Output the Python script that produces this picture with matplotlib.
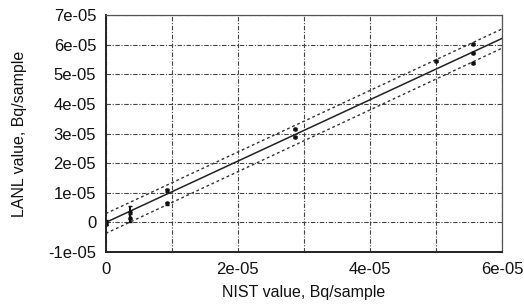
import numpy as np
import matplotlib.pyplot as plt
from matplotlib.ticker import MultipleLocator

plt.rcParams['font.family'] = ['Liberation Sans', 'DejaVu Sans']

# measured points (NIST, LANL) and their uncertainties
nist = [0.0, 0.0, 0.36e-5, 0.36e-5, 0.92e-5, 0.92e-5, 2.86e-5, 2.86e-5, 5.0e-5, 5.56e-5, 5.56e-5, 5.56e-5]
lanl = [0.0, -0.05e-5, 0.35e-5, 0.15e-5, 1.09e-5, 0.65e-5, 3.15e-5, 2.88e-5, 5.45e-5, 6.02e-5, 5.72e-5, 5.38e-5]
lanl_err = [0.08e-5, 0.05e-5, 0.22e-5, 0.15e-5, 0.05e-5, 0.05e-5, 0.03e-5, 0.03e-5, 0.02e-5, 0.03e-5, 0.03e-5, 0.03e-5]

# fit line and bounds (end points)
fit_x = [0.0, 6e-05]
fit_y = [0.0, 6.21e-05]
upper_y = [0.3e-05, 6.53e-05]
lower_y = [-0.37e-05, 5.88e-05]

fig = plt.figure(figsize=(5.24, 3.07), dpi=100)
ax = fig.add_axes([0.202, 0.179, 0.756, 0.772])

ax.plot(fit_x, fit_y, color='#222222', lw=1.1)
ax.plot(fit_x, upper_y, color='#333333', lw=1.0, ls=(0, (2, 2)))
ax.plot(fit_x, lower_y, color='#333333', lw=1.0, ls=(0, (2, 2)))
ax.errorbar(nist, lanl, yerr=lanl_err, fmt='o', ms=2.2, color='#111111',
            ecolor='#111111', elinewidth=1.5, capsize=1.5, capthick=1.0)

ax.set_xlim(0, 6e-05)
ax.set_ylim(-1e-05, 7e-05)
ax.xaxis.set_major_locator(MultipleLocator(2e-05))
ax.xaxis.set_minor_locator(MultipleLocator(1e-05))
ax.yaxis.set_major_locator(MultipleLocator(1e-05))
ax.set_xticklabels(['0' if v == 0 else '{:.0e}'.format(v) for v in ax.get_xticks()])
ax.set_yticklabels(['0' if abs(v) < 1e-12 else '{:.0e}'.format(v) for v in ax.get_yticks()])
ax.grid(True, which='both', color='#444444', lw=0.8, ls=(0, (4, 1.5, 1, 1.5)))
ax.tick_params(which='both', length=0, labelsize=12, pad=7, colors='#111111')

for side in ['left', 'bottom']:
    ax.spines[side].set_linewidth(1.4)
    ax.spines[side].set_color('#222222')
for side in ['top', 'right']:
    ax.spines[side].set_linewidth(0.9)
    ax.spines[side].set_color('#555555')

ax.set_xlabel('NIST value, Bq/sample', fontsize=11.5, labelpad=6, color='#111111')
ax.set_ylabel('LANL value, Bq/sample', fontsize=11.5, labelpad=15, color='#111111')

fig.savefig('out.png', dpi=100)
